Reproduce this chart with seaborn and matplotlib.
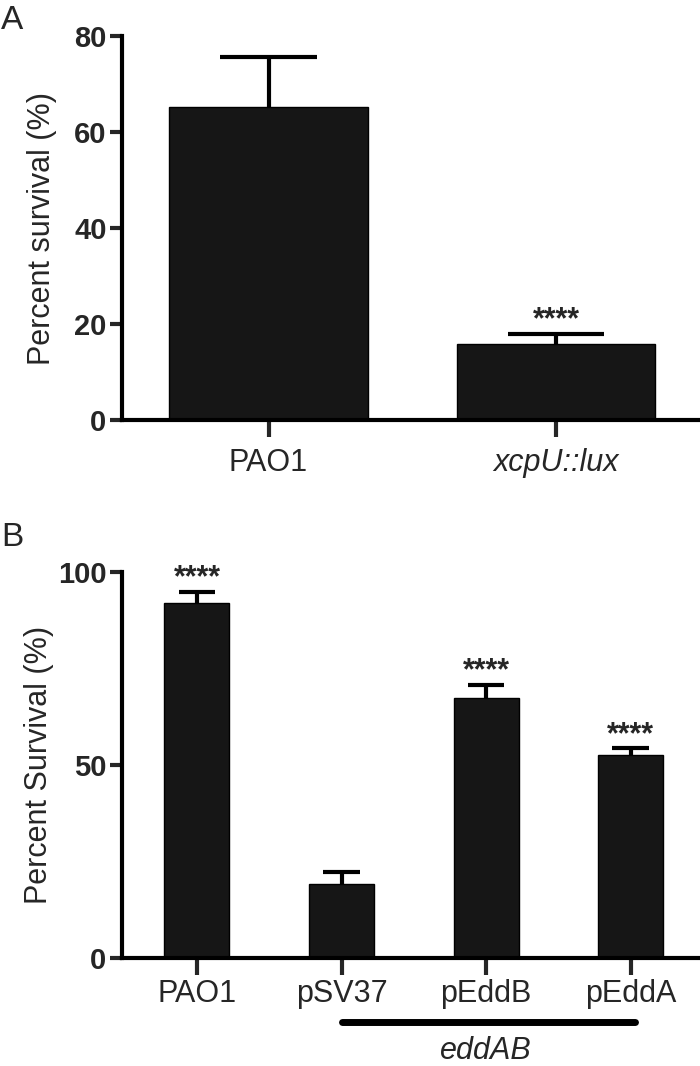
"""
Percent survival bar charts (panels A and B).
"""

import numpy as np
import pandas as pd
import matplotlib
matplotlib.use('Agg')
import matplotlib.pyplot as plt
import seaborn as sns

# Panel A data
strains_a = ['PAO1', 'xcpU::lux']
survival_a = [65.2, 15.9]
sem_a = [10.5, 2.1]
stars_a = ['', '****']

# Panel B data
strains_b = ['PAO1', 'pSV37', 'pEddB', 'pEddA']
survival_b = [92.0, 19.3, 67.4, 52.6]
sem_b = [2.9, 3.1, 3.4, 1.8]
stars_b = ['****', '', '****', '****']

sns.set_style('ticks')
plt.rcParams['font.family'] = ['Liberation Sans', 'DejaVu Sans']

BAR = '#161616'
LW = 3.0
NUM_FONT = ['Liberation Sans Narrow', 'Liberation Sans', 'DejaVu Sans']


def style_axis(ax, ymax, step, xpad):
    ax.set_ylim(0, ymax)
    ax.set_yticks(np.arange(0, ymax + 1, step))
    sns.despine(ax=ax)
    for side in ['left', 'bottom']:
        ax.spines[side].set_linewidth(LW)
        ax.spines[side].set_color('black')
    ax.tick_params(axis='y', length=9, width=LW, direction='out', pad=2)
    ax.tick_params(axis='x', length=12, width=LW, direction='out', pad=xpad)
    for lab in ax.get_yticklabels():
        lab.set_family(NUM_FONT)
        lab.set_fontweight('bold')
        lab.set_fontsize(21)
    for lab in ax.get_xticklabels():
        lab.set_fontsize(22)
    ax.set_xlabel('')


def draw_panel(ax, names, values, errs, stars, width, cap, ymax, step,
               ylabel, labelpad, xpad):
    df = pd.DataFrame({'strain': names, 'survival': values})
    sns.barplot(data=df, x='strain', y='survival', color=BAR, width=width,
                edgecolor='black', linewidth=1, saturation=1, ax=ax)
    xs = np.arange(len(names))
    tops = np.array(values) + np.array(errs)
    # upper-only error bars: stem plus a cap at the top
    ax.vlines(xs, values, tops, color='black', lw=LW, zorder=3)
    ax.hlines(tops, xs - cap / 2, xs + cap / 2, color='black', lw=LW,
              zorder=3)
    for x, t, s in zip(xs, tops, stars):
        if s:
            ax.annotate(s, (x, t), xytext=(0, 4), textcoords='offset points',
                        ha='center', va='baseline', fontsize=22,
                        fontweight='bold', annotation_clip=False)
    ax.set_ylabel(ylabel, fontsize=22, labelpad=labelpad)
    style_axis(ax, ymax, step, xpad)


fig = plt.figure(figsize=(7, 10.66), dpi=100)

# Panel A
ax_a = fig.add_axes([0.174, 0.606, 0.826, 0.36])
draw_panel(ax_a, strains_a, survival_a, sem_a, stars_a, 0.69, 0.334, 80, 20,
           'Percent survival (%)', 12, 8)
ax_a.set_xlim(-0.51, 1.5)
ax_a.get_xticklabels()[1].set_style('italic')
fig.text(0.002, 0.995, 'A', fontsize=24, va='top')

# Panel B
ax_b = fig.add_axes([0.174, 0.101, 0.826, 0.362])
draw_panel(ax_b, strains_b, survival_b, sem_b, stars_b, 0.45, 0.254, 100, 50,
           'Percent Survival (%)', 3, 3)
ax_b.set_xlim(-0.52, 3.48)
tr = ax_b.get_xaxis_transform()
ax_b.plot([1, 3.03], [-0.166, -0.166], color='black', lw=5,
          solid_capstyle='round', transform=tr, clip_on=False)
ax_b.text(2.0, -0.2, 'eddAB', ha='center', va='top', fontsize=22,
          style='italic', transform=tr)
fig.text(0.002, 0.51, 'B', fontsize=24, va='top')

fig.savefig('out.png', dpi=100)
